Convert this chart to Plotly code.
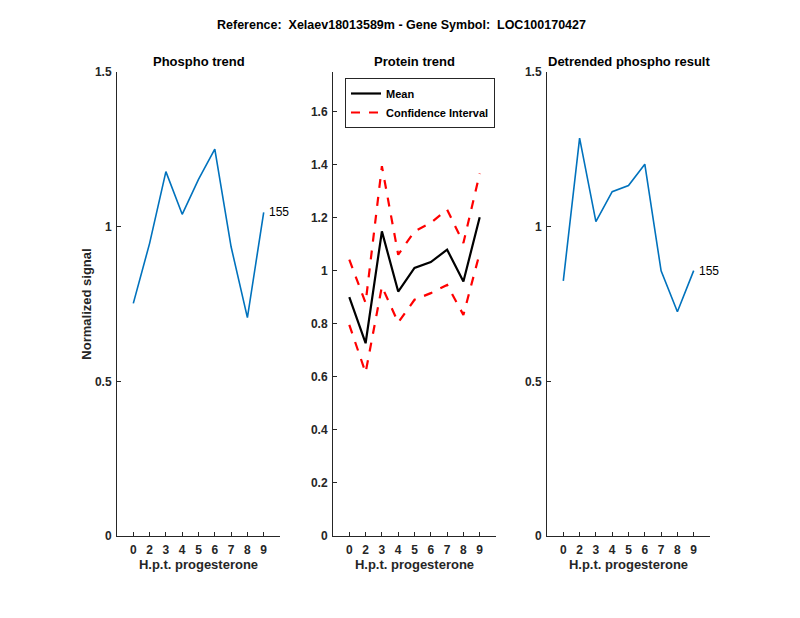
import plotly.graph_objects as go

categories = ["0", "2", "3", "4", "5", "6", "7", "8", "9"]
positions = [1, 2, 3, 4, 5, 6, 7, 8, 9]

phospho = [0.752, 0.946, 1.178, 1.040, 1.153, 1.251, 0.935, 0.706, 1.046]
protein_mean = [0.901, 0.727, 1.149, 0.922, 1.011, 1.033, 1.080, 0.960, 1.202]
protein_upper = [1.042, 0.879, 1.395, 1.061, 1.149, 1.181, 1.231, 1.105, 1.367]
protein_lower = [0.796, 0.616, 0.941, 0.805, 0.891, 0.916, 0.947, 0.834, 1.067]
detrended = [0.825, 1.286, 1.016, 1.113, 1.133, 1.202, 0.857, 0.725, 0.858]

label_id = "155"
main_title = "Reference:  Xelaev18013589m - Gene Symbol:  LOC100170427"
panel_titles = ["Phospho trend", "Protein trend", "Detrended phospho result"]
x_title = "H.p.t. progesterone"
y_title = "Normalized signal"

FONT = "Liberation Sans"
AX = "#262626"
BLUE = "#0072BD"
W, H = 800, 618
OFF = 8  # page body margin

fig = go.Figure()

fig.add_trace(go.Scatter(x=positions, y=phospho, mode="lines",
                         line=dict(color=BLUE, width=1.6), showlegend=False,
                         xaxis="x", yaxis="y"))
fig.add_trace(go.Scatter(x=positions, y=protein_mean, mode="lines", name="Mean",
                         line=dict(color="black", width=2.2),
                         xaxis="x2", yaxis="y2"))
fig.add_trace(go.Scatter(x=positions, y=protein_upper, mode="lines", name="Confidence Interval",
                         line=dict(color="red", width=2.2, dash="dash"),
                         xaxis="x2", yaxis="y2"))
fig.add_trace(go.Scatter(x=positions, y=protein_lower, mode="lines", name="Confidence Interval",
                         line=dict(color="red", width=2.2, dash="dash"), showlegend=False,
                         xaxis="x2", yaxis="y2"))
fig.add_trace(go.Scatter(x=positions, y=detrended, mode="lines",
                         line=dict(color=BLUE, width=1.6), showlegend=False,
                         xaxis="x3", yaxis="y3"))

def px_x(v):
    return (v - OFF) / W

def px_y(v):
    return 1 - (v - OFF) / H

ydom = [px_y(536), px_y(72)]
xdoms = [[px_x(117), px_x(280)], [px_x(333), px_x(496)], [px_x(547), px_x(710)]]

def xax(dom, anchor):
    return dict(domain=dom, anchor=anchor, range=[0, 10], tickvals=positions,
                ticktext=categories, showline=True, linecolor=AX, linewidth=1,
                ticks="inside", ticklen=4, tickcolor=AX, showgrid=False, zeroline=False,
                automargin=False, ticklabelstandoff=3,
                tickfont=dict(family=FONT, size=12, color=AX, weight="bold"),
                title=dict(text=x_title, standoff=3,
                           font=dict(family=FONT, size=13, color=AX, weight="bold")))

def yax(anchor, rng, dtick):
    return dict(domain=ydom, anchor=anchor, range=rng, dtick=dtick, tick0=0,
                showline=True, linecolor=AX, linewidth=1, ticks="inside", ticklen=4,
                tickcolor=AX, showgrid=False, zeroline=False, automargin=False,
                ticklabelstandoff=2,
                tickfont=dict(family=FONT, size=12, color=AX, weight="bold"))

fig.update_layout(
    template="none",
    width=W, height=H,
    margin=dict(l=0, r=0, t=0, b=0, pad=0),
    paper_bgcolor="white", plot_bgcolor="white",
    xaxis=xax(xdoms[0], "y"),
    xaxis2=xax(xdoms[1], "y2"),
    xaxis3=xax(xdoms[2], "y3"),
    yaxis=yax("x", [0, 1.5], 0.5),
    yaxis2=yax("x2", [0, 1.75], 0.2),
    yaxis3=yax("x3", [0, 1.5], 0.5),
    legend=dict(x=px_x(345), y=px_y(78), xanchor="left", yanchor="top",
                bgcolor="white", bordercolor=AX, borderwidth=1,
                font=dict(family=FONT, size=11, color="black", weight="bold"),
                tracegroupgap=0, itemwidth=30),
    showlegend=True,
)
fig.update_layout(yaxis_title=dict(text=y_title, standoff=0,
                                   font=dict(family=FONT, size=13, color=AX, weight="bold")))

annotations = [
    dict(text=main_title, x=px_x(401), y=px_y(25), xref="paper", yref="paper",
         showarrow=False, xanchor="center", yanchor="middle",
         font=dict(family=FONT, size=12.5, color="black", weight="bold")),
]
for i, t in enumerate(panel_titles):
    annotations.append(dict(text=t, x=(xdoms[i][0] + xdoms[i][1]) / 2, y=px_y(61),
                            xref="paper", yref="paper", showarrow=False,
                            xanchor="center", yanchor="middle",
                            font=dict(family=FONT, size=13, color="black", weight="bold")))
annotations.append(dict(text=label_id, x=positions[-1], y=phospho[-1], xref="x", yref="y",
                        showarrow=False, xanchor="left", xshift=3,
                        font=dict(family=FONT, size=12, color="black")))
annotations.append(dict(text=label_id, x=positions[-1], y=detrended[-1], xref="x3", yref="y3",
                        showarrow=False, xanchor="left", xshift=3,
                        font=dict(family=FONT, size=12, color="black")))
fig.update_layout(annotations=annotations)

fig.write_html("out.html")
